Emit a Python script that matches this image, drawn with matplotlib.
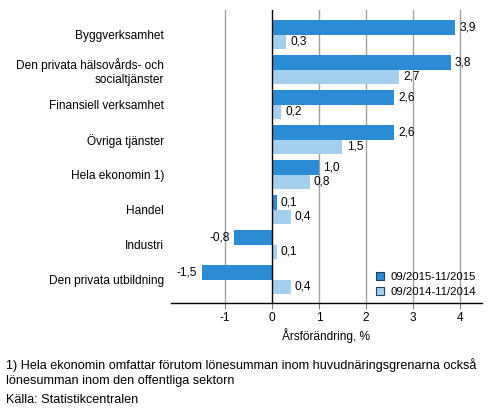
import matplotlib
matplotlib.use('Agg')
import matplotlib.pyplot as plt
import numpy as np

plt.rcParams['font.family'] = ['Liberation Sans', 'DejaVu Sans']
plt.rcParams['font.size'] = 8.6

categories = ['Byggverksamhet', 'Den privata hälsovårds- och\nsocialtjänster',
              'Finansiell verksamhet', 'Övriga tjänster', 'Hela ekonomin 1)',
              'Handel', 'Industri', 'Den privata utbildning']
v2015 = [3.9, 3.8, 2.6, 2.6, 1.0, 0.1, -0.8, -1.5]
v2014 = [0.3, 2.7, 0.2, 1.5, 0.8, 0.4, 0.1, 0.4]
series_names = ['09/2015-11/2015', '09/2014-11/2014']
xticks = [-1, 0, 1, 2, 3, 4]

DARK = '#2a8cd4'
LIGHT = '#a4d0ef'

W, H = 493, 416
fig = plt.figure(figsize=(W / 100, H / 100), dpi=100)
ax = fig.add_axes([171 / W, (H - 303) / H, (482 - 171) / W, (303 - 10) / H])

y = np.arange(len(categories))
bh = 0.414
b1 = ax.barh(y - bh / 2, v2015, height=bh, color=DARK, label=series_names[0], zorder=3)
b2 = ax.barh(y + bh / 2, v2014, height=bh, color=LIGHT, label=series_names[1], zorder=3)

def fmt(v):
    return f'{v:.1f}'.replace('.', ',')

# värdeetiketter: höger om stapeln för positiva, vänster för negativa
for bars, vals in [(b1, v2015), (b2, v2014)]:
    for rect, v in zip(bars, vals):
        yc = rect.get_y() + rect.get_height() / 2
        if v >= 0:
            ax.annotate(fmt(v), (v, yc), xytext=(3, 0), textcoords='offset points',
                        ha='left', va='center')
        else:
            ax.annotate(fmt(v), (v, yc), xytext=(-3, 0), textcoords='offset points',
                        ha='right', va='center')

ax.set_xlim(-2.15, 4.47)
ax.set_ylim(7.67, -0.7)
ax.set_yticks(y)
ax.set_yticklabels(categories)
ax.tick_params(axis='y', length=0, pad=5)
ax.set_xticks(xticks)
ax.set_xticklabels([str(t) for t in xticks])
ax.tick_params(axis='x', length=4, width=0.8, color='#808080', pad=2.5)
for t in xticks:
    ax.axvline(t, color='black' if t == 0 else '#a0a0a0', lw=1, zorder=1 if t else 4)
for s in ['left', 'right', 'top']:
    ax.spines[s].set_visible(False)
ax.spines['bottom'].set_color('black')
ax.spines['bottom'].set_linewidth(1)
ax.set_xlabel('Årsförändring, %', labelpad=3)

leg = ax.legend(loc='lower right', bbox_to_anchor=(1.0, 0.0), frameon=False,
                handlelength=0.7, handleheight=0.7, handletextpad=0.5,
                labelspacing=0.45, borderaxespad=0.15, fontsize=8.2)
for h in leg.legend_handles:
    h.set_edgecolor('#1f3f5f')
    h.set_linewidth(0.8)

fig.text(6 / W, 1 - 365 / H, '1) Hela ekonomin omfattar förutom lönesumman inom huvudnäringsgrenarna också',
         ha='left', va='center', fontsize=9.1)
fig.text(6 / W, 1 - 381 / H, 'lönesumman inom den offentliga sektorn',
         ha='left', va='center', fontsize=9.1)
fig.text(6 / W, 1 - 400 / H, 'Källa: Statistikcentralen', ha='left', va='center', fontsize=9.1)

fig.savefig('out.png', dpi=100)
